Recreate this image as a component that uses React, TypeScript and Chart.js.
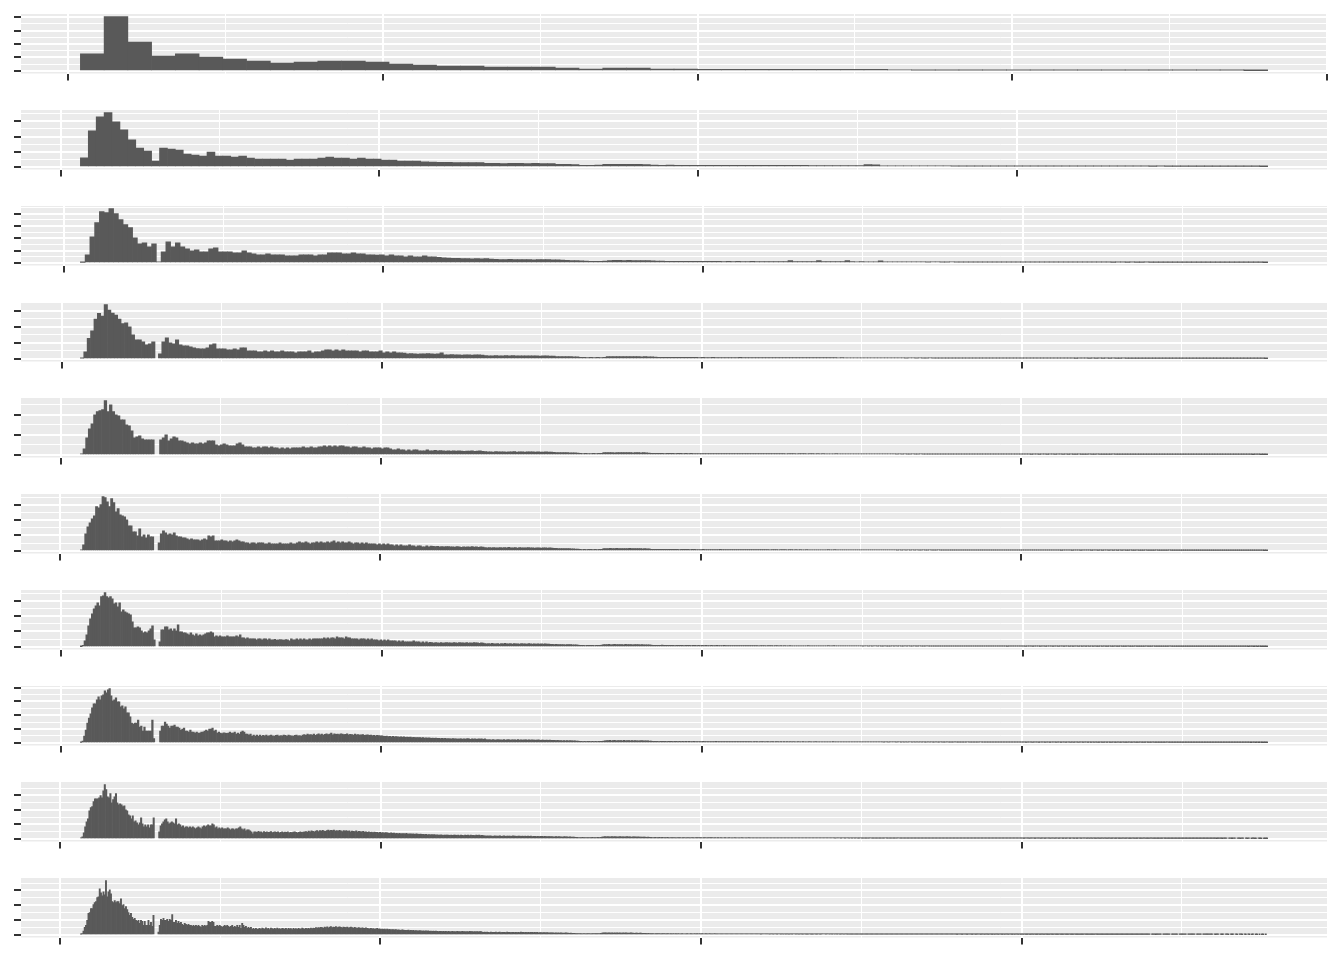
import React, { useEffect, useRef } from "react";
import { Chart, registerables } from "chart.js";

Chart.register(...registerables);

// ---- data (diamond price histograms, counts per bin) ----
const PRICE_MIN = 326;
const PRICE_MAX = 18823;
const binCounts = [50, 150, 250, 350, 450, 550, 650, 750, 850, 950];
const yTickSteps = [2500, 1000, 500, 500, 500, 300, 250, 200, 200, 200];
const xMajorStep = 5000;

const counts50 = [
  3170, 10075, 5350, 2740, 3170, 2550, 2180, 1800, 1430, 1620,
  1800, 1800, 1620, 1245, 1060, 870, 870, 685, 685, 685,
  500, 310, 500, 500, 300, 300, 290, 290, 280, 280,
  270, 270, 260, 250, 140, 135, 130, 130, 125, 125,
  120, 120, 115, 110, 110, 105, 100, 100, 95, 40,
];

const counts150 = [
  600, 2375, 3310, 3575, 2975, 2440, 1775, 1245, 1045, 380,
  1245, 1175, 1110, 845, 780, 710, 975, 710, 710, 645,
  710, 577, 510, 510, 510, 510, 445, 510, 510, 510,
  577, 645, 577, 577, 510, 577, 510, 510, 445, 445,
  380, 380, 380, 330, 310, 300, 290, 280, 285, 275,
  280, 230, 225, 220, 228, 222, 218, 225, 215, 205,
  170, 160, 145, 105, 95, 110, 160, 165, 160, 158,
  155, 140, 110, 105, 108, 104, 102, 100, 98, 96,
  95, 97, 94, 93, 95, 92, 91, 93, 90, 92,
  89, 90, 88, 87, 84, 82, 80, 78, 76, 140,
  130, 64, 58, 57, 56, 57, 55, 54, 55, 53,
  49, 48, 47, 48, 46, 47, 45, 46, 43, 42,
  43, 41, 42, 40, 41, 40, 38, 37, 38, 36,
  37, 35, 36, 35, 34, 33, 34, 32, 33, 32,
  33, 31, 29, 28, 27, 28, 26, 25, 22, 12,
];

const counts250 = [
  20, 326, 1060, 1632, 2080, 2040, 2200, 2000, 1755, 1550,
  1430, 1020, 775, 816, 653, 775, 40, 450, 857, 653,
  816, 653, 571, 490, 530, 450, 450, 571, 612, 450,
  450, 450, 408, 408, 490, 408, 367, 326, 326, 367,
  326, 326, 326, 286, 286, 286, 326, 326, 326, 286,
  326, 326, 408, 408, 408, 367, 367, 408, 367, 367,
  326, 326, 310, 326, 286, 326, 286, 286, 245, 286,
  245, 245, 286, 245, 245, 220, 205, 195, 185, 178,
  172, 175, 165, 170, 160, 168, 155, 140, 135, 130,
  138, 132, 128, 135, 130, 125, 133, 128, 130, 120,
  125, 110, 100, 95, 90, 75, 65, 60, 58, 62,
  65, 95, 100, 97, 92, 98, 95, 90, 93, 88,
  85, 68, 65, 62, 64, 60, 63, 61, 58, 60,
  62, 58, 56, 55, 57, 54, 55, 53, 56, 54,
  52, 55, 53, 51, 54, 52, 50, 53, 51, 95,
  50, 49, 51, 50, 48, 92, 49, 47, 48, 47,
  46, 90, 45, 44, 46, 43, 42, 40, 85, 36,
  35, 34, 34, 33, 32, 34, 31, 33, 30, 32,
  31, 30, 29, 31, 29, 28, 29, 27, 28, 27,
  26, 28, 27, 26, 27, 25, 26, 27, 25, 25,
  24, 26, 24, 25, 23, 24, 25, 23, 24, 22,
  23, 24, 22, 21, 23, 21, 22, 20, 21, 22,
  20, 21, 19, 20, 21, 19, 20, 19, 18, 20,
  19, 18, 19, 17, 18, 19, 17, 18, 17, 17,
  16, 15, 16, 15, 14, 15, 13, 14, 12, 8,
];

const counts350 = [
  20, 217, 640, 870, 1240, 1418, 1335, 1687, 1521, 1428,
  1366, 1242, 1097, 1118, 994, 745, 590, 590, 528, 435,
  466, 528, 0, 155, 528, 652, 497, 466, 590, 435,
  404, 404, 373, 342, 320, 310, 310, 342, 435, 466,
  310, 310, 310, 280, 280, 310, 280, 342, 342, 248,
  248, 248, 217, 217, 248, 217, 248, 217, 217, 248,
  217, 217, 217, 186, 217, 217, 217, 248, 186, 217,
  217, 248, 280, 280, 248, 280, 248, 280, 248, 248,
  248, 248, 217, 248, 248, 217, 217, 217, 248, 186,
  217, 186, 217, 186, 186, 176, 155, 165, 155, 145,
  155, 155, 165, 155, 145, 155, 186, 124, 124, 128,
  120, 125, 118, 122, 126, 115, 120, 124, 117, 100,
  96, 92, 98, 95, 90, 97, 93, 99, 94, 91,
  96, 92, 95, 90, 94, 88, 93, 90, 86, 82,
  72, 70, 68, 71, 66, 64, 58, 45, 42, 40,
  44, 41, 43, 40, 46, 66, 70, 68, 72, 69,
  67, 71, 66, 68, 70, 65, 67, 64, 60, 55,
  48, 46, 44, 47, 45, 43, 46, 44, 45, 42,
  44, 43, 41, 42, 41, 40, 42, 39, 41, 40,
  38, 41, 39, 40, 42, 38, 40, 39, 41, 38,
  40, 39, 37, 40, 38, 39, 41, 37, 38, 40,
  38, 36, 39, 38, 37, 39, 36, 38, 37, 36,
  38, 35, 35, 34, 36, 33, 34, 32, 33, 34,
  31, 32, 30, 31, 29, 30, 28, 29, 27, 28,
  26, 25, 24, 23, 25, 24, 22, 24, 23, 22,
  24, 21, 23, 22, 21, 23, 21, 22, 20, 21,
  21, 20, 19, 21, 20, 19, 20, 18, 20, 19,
  21, 18, 19, 20, 18, 19, 17, 19, 18, 18,
  17, 19, 17, 18, 16, 18, 17, 16, 18, 17,
  16, 18, 17, 15, 17, 16, 17, 15, 16, 15,
  17, 15, 16, 14, 16, 15, 14, 16, 15, 14,
  15, 13, 15, 14, 15, 13, 14, 14, 13, 15,
  13, 14, 12, 14, 13, 12, 14, 13, 12, 13,
  11, 13, 12, 11, 12, 12, 11, 12, 10, 11,
  12, 10, 11, 9, 10, 11, 9, 10, 8, 5,
];

const counts450 = [
  25, 150, 423, 647, 771, 995, 1070, 1095, 1120, 1343,
  1070, 1243, 1070, 995, 970, 870, 870, 746, 721, 597,
  423, 448, 473, 398, 373, 373, 373, 373, 0, 0,
  373, 423, 497, 348, 398, 448, 423, 348, 348, 323,
  298, 274, 298, 274, 274, 298, 274, 298, 348, 348,
  348, 249, 224, 249, 274, 249, 224, 224, 224, 274,
  298, 249, 199, 199, 199, 174, 174, 199, 174, 199,
  199, 174, 199, 174, 174, 149, 174, 149, 174, 149,
  174, 174, 174, 174, 199, 174, 174, 199, 174, 174,
  199, 199, 224, 199, 224, 199, 224, 199, 224, 224,
  199, 199, 174, 199, 199, 174, 174, 199, 174, 174,
  149, 174, 174, 174, 149, 174, 174, 149, 124, 124,
  149, 124, 124, 99, 124, 99, 124, 124, 99, 99,
  99, 124, 99, 99, 110, 99, 105, 99, 95, 98,
  92, 96, 90, 99, 94, 88, 95, 91, 97, 89,
  93, 96, 87, 78, 72, 75, 70, 77, 73, 71,
  76, 69, 74, 72, 78, 70, 73, 75, 68, 74,
  71, 72, 69, 73, 70, 67, 71, 68, 65, 62,
  56, 53, 55, 52, 54, 51, 50, 46, 42, 34,
  32, 35, 31, 33, 34, 32, 35, 38, 52, 56,
  53, 55, 51, 57, 54, 52, 55, 53, 56, 51,
  54, 52, 50, 53, 48, 45, 38, 36, 34, 37,
  35, 33, 36, 34, 35, 32, 36, 34, 33, 35,
  32, 34, 33, 31, 32, 31, 33, 30, 32, 31,
  29, 32, 30, 31, 33, 29, 31, 30, 32, 29,
  31, 30, 28, 31, 30, 29, 31, 28, 30, 29,
  31, 28, 30, 29, 28, 30, 29, 27, 30, 28,
  29, 27, 29, 28, 30, 27, 28, 29, 27, 28,
  26, 28, 27, 26, 27, 26, 28, 25, 27, 26,
  25, 27, 24, 26, 25, 24, 25, 23, 24, 23,
  22, 23, 21, 22, 21, 20, 21, 19, 19, 18,
  20, 17, 19, 18, 17, 19, 18, 17, 19, 16,
  18, 17, 18, 16, 17, 18, 16, 17, 15, 17,
  16, 15, 16, 16, 15, 17, 14, 16, 15, 14,
  16, 15, 14, 16, 13, 15, 14, 16, 13, 15,
  14, 13, 15, 14, 13, 14, 13, 14, 13, 15,
  12, 14, 13, 12, 14, 13, 12, 14, 13, 12,
  13, 14, 11, 13, 12, 13, 11, 12, 13, 11,
  12, 12, 13, 11, 12, 13, 11, 12, 10, 12,
  11, 13, 10, 12, 11, 12, 10, 11, 12, 10,
  11, 12, 10, 11, 10, 11, 11, 10, 12, 9,
  11, 10, 11, 9, 10, 11, 9, 10, 11, 9,
  10, 9, 11, 8, 10, 9, 10, 8, 9, 10,
  9, 8, 10, 7, 9, 8, 9, 7, 8, 9,
  7, 8, 7, 8, 6, 7, 8, 6, 5, 3,
];

const counts550 = [
  20, 117, 332, 469, 548, 626, 685, 861, 841, 900,
  1056, 1037, 958, 861, 1017, 939, 763, 822, 704, 685,
  665, 606, 489, 489, 372, 372, 293, 430, 274, 313,
  254, 313, 274, 274, 0, 0, 156, 332, 391, 352,
  313, 332, 313, 352, 293, 274, 274, 254, 254, 235,
  215, 235, 215, 215, 215, 196, 215, 235, 215, 293,
  274, 293, 196, 196, 196, 215, 196, 196, 176, 196,
  176, 196, 215, 196, 176, 176, 156, 156, 137, 156,
  156, 137, 156, 156, 156, 137, 137, 156, 137, 137,
  137, 137, 156, 137, 137, 137, 137, 156, 137, 137,
  156, 176, 156, 156, 176, 156, 137, 156, 156, 176,
  156, 176, 156, 156, 176, 156, 176, 196, 156, 176,
  156, 176, 156, 156, 176, 156, 137, 156, 156, 137,
  156, 137, 156, 137, 137, 137, 137, 117, 137, 117,
  137, 117, 137, 117, 117, 98, 117, 98, 117, 98,
  98, 98, 117, 98, 98, 78, 98, 98, 78, 78,
  98, 78, 90, 85, 80, 88, 78, 82, 76, 80,
  80, 75, 78, 72, 81, 76, 70, 79, 74, 77,
  71, 80, 73, 76, 69, 75, 72, 64, 59, 62,
  57, 65, 60, 58, 63, 56, 61, 59, 66, 57,
  60, 62, 55, 61, 58, 60, 56, 62, 57, 59,
  55, 60, 58, 54, 59, 56, 53, 57, 52, 50,
  46, 43, 45, 42, 44, 41, 43, 40, 38, 35,
  32, 28, 26, 29, 25, 27, 28, 26, 27, 25,
  28, 31, 42, 45, 43, 46, 41, 44, 47, 42,
  45, 43, 44, 41, 46, 42, 44, 43, 41, 42,
  40, 41, 38, 36, 31, 29, 28, 30, 27, 29,
  31, 28, 30, 27, 29, 28, 30, 26, 29, 28,
  27, 29, 26, 28, 27, 26, 26, 25, 27, 24,
  26, 25, 23, 26, 24, 25, 27, 23, 25, 24,
  26, 23, 25, 24, 22, 25, 24, 23, 25, 22,
  24, 23, 25, 22, 24, 23, 22, 24, 23, 21,
  24, 22, 23, 21, 23, 22, 24, 21, 22, 23,
  21, 22, 20, 22, 21, 20, 22, 21, 20, 21,
  19, 21, 20, 19, 21, 20, 22, 21, 20, 22,
  19, 21, 20, 19, 21, 18, 20, 19, 18, 20,
  17, 19, 18, 17, 19, 16, 18, 17, 16, 17,
  15, 16, 17, 15, 16, 15, 16, 15, 14, 16,
  13, 15, 14, 16, 13, 15, 14, 15, 13, 14,
  16, 13, 14, 15, 12, 14, 13, 15, 12, 14,
  13, 12, 14, 13, 12, 13, 13, 12, 14, 11,
  13, 12, 14, 11, 13, 12, 11, 13, 12, 14,
  11, 12, 13, 11, 12, 13, 10, 12, 11, 13,
  10, 12, 11, 12, 10, 11, 12, 11, 13, 10,
  12, 11, 10, 12, 11, 13, 10, 11, 12, 10,
  11, 12, 10, 11, 9, 11, 12, 10, 11, 9,
  10, 11, 10, 9, 11, 10, 10, 11, 9, 10,
  11, 9, 10, 8, 10, 11, 9, 10, 9, 11,
  8, 10, 9, 10, 8, 9, 10, 9, 8, 10,
  9, 8, 9, 10, 8, 9, 9, 8, 10, 8,
  9, 7, 9, 8, 10, 7, 9, 8, 9, 7,
  8, 9, 8, 7, 9, 8, 7, 8, 9, 7,
  8, 7, 8, 9, 7, 8, 8, 7, 8, 6,
  7, 8, 6, 7, 8, 6, 7, 6, 7, 8,
  6, 7, 5, 6, 7, 5, 6, 5, 4, 3,
];

const counts650 = [
  3, 22, 98, 195, 342, 456, 538, 619, 668, 717,
  668, 815, 831, 880, 815, 798, 815, 782, 700, 717,
  652, 717, 570, 603, 570, 554, 538, 521, 407, 310,
  310, 326, 310, 261, 228, 244, 228, 261, 293, 342,
  114, 0, 0, 81, 277, 277, 326, 326, 277, 293,
  261, 293, 261, 358, 244, 244, 228, 228, 212, 195,
  228, 195, 179, 212, 179, 195, 179, 195, 212, 228,
  228, 244, 228, 163, 179, 163, 179, 163, 163, 163,
  179, 163, 163, 163, 163, 179, 163, 195, 147, 147,
  130, 147, 130, 130, 130, 130, 114, 130, 130, 114,
  130, 130, 114, 130, 114, 114, 120, 110, 114, 118,
  114, 110, 116, 114, 98, 130, 114, 114, 130, 114,
  130, 114, 130, 114, 114, 130, 114, 130, 130, 130,
  130, 130, 130, 147, 130, 147, 130, 147, 147, 130,
  163, 147, 147, 147, 130, 163, 147, 147, 130, 130,
  130, 130, 114, 130, 130, 130, 114, 130, 114, 130,
  114, 114, 114, 98, 114, 98, 114, 98, 114, 98,
  98, 98, 98, 81, 98, 81, 98, 81, 81, 81,
  81, 81, 98, 81, 81, 81, 65, 81, 65, 81,
  65, 72, 68, 60, 70, 65, 62, 68, 60, 64,
  68, 63, 66, 61, 70, 64, 60, 67, 63, 66,
  59, 69, 62, 65, 60, 67, 63, 64, 58, 66,
  61, 54, 49, 52, 47, 56, 50, 48, 53, 46,
  51, 49, 55, 47, 50, 52, 45, 51, 48, 50,
  46, 53, 47, 49, 45, 51, 48, 44, 50, 46,
  49, 45, 48, 44, 47, 43, 46, 42, 40, 38,
  39, 36, 38, 35, 37, 34, 38, 35, 36, 33,
  34, 30, 27, 24, 22, 25, 21, 23, 24, 22,
  23, 21, 24, 22, 25, 27, 35, 38, 36, 39,
  34, 37, 40, 35, 38, 36, 37, 34, 39, 35,
  37, 36, 34, 37, 35, 36, 33, 35, 34, 32,
  31, 30, 26, 24, 23, 25, 22, 24, 26, 23,
  25, 22, 24, 23, 25, 21, 24, 23, 22, 24,
  21, 23, 22, 24, 21, 23, 22, 21, 22, 21,
  23, 20, 22, 21, 19, 22, 20, 21, 23, 19,
  21, 20, 22, 19, 21, 20, 18, 21, 20, 19,
  21, 18, 20, 19, 21, 18, 20, 19, 18, 20,
  19, 17, 20, 18, 19, 17, 19, 18, 20, 17,
  18, 19, 17, 18, 16, 18, 17, 16, 18, 17,
  16, 17, 15, 17, 16, 15, 17, 16, 18, 16,
  17, 15, 16, 17, 15, 16, 14, 16, 15, 18,
  17, 16, 18, 15, 17, 16, 15, 17, 14, 16,
  15, 14, 16, 13, 15, 14, 13, 15, 12, 14,
  13, 12, 14, 12, 13, 14, 12, 13, 12, 11,
  13, 12, 11, 12, 13, 12, 14, 11, 13, 12,
  11, 13, 12, 14, 11, 12, 13, 11, 12, 13,
  10, 12, 11, 13, 10, 12, 11, 12, 10, 11,
  12, 10, 11, 12, 10, 11, 10, 12, 10, 11,
  10, 12, 9, 11, 10, 12, 9, 11, 10, 11,
  9, 10, 12, 9, 11, 10, 11, 9, 10, 11,
  9, 10, 11, 9, 10, 9, 11, 8, 10, 9,
  10, 11, 9, 10, 10, 9, 11, 8, 10, 9,
  11, 8, 10, 9, 10, 8, 9, 11, 8, 10,
  9, 10, 8, 9, 10, 8, 9, 10, 8, 9,
  10, 8, 9, 8, 10, 9, 8, 9, 8, 9,
  8, 10, 7, 9, 8, 9, 7, 8, 9, 8,
  10, 7, 8, 9, 7, 8, 9, 8, 7, 9,
  8, 7, 8, 9, 7, 8, 7, 9, 8, 7,
  8, 7, 8, 9, 7, 8, 7, 9, 6, 8,
  7, 8, 6, 7, 8, 7, 9, 6, 7, 8,
  6, 7, 8, 7, 6, 8, 7, 6, 7, 8,
  6, 7, 6, 8, 7, 6, 7, 6, 7, 6,
  7, 6, 7, 5, 6, 7, 5, 6, 7, 5,
  6, 5, 7, 6, 5, 6, 5, 6, 5, 4,
  6, 5, 4, 5, 4, 5, 4, 3, 4, 2,
];

const counts750 = [
  5, 24, 97, 185, 287, 360, 419, 506, 565, 565,
  623, 667, 623, 682, 696, 755, 726, 769, 784, 682,
  609, 623, 653, 594, 594, 521, 536, 492, 521, 433,
  433, 375, 287, 273, 287, 287, 331, 229, 244, 170,
  229, 170, 170, 170, 170, 331, 60, 0, 0, 0,
  170, 244, 244, 302, 273, 244, 214, 244, 244, 258,
  229, 229, 214, 185, 200, 214, 170, 170, 156, 185,
  156, 156, 141, 156, 141, 141, 156, 156, 170, 185,
  170, 200, 200, 214, 170, 185, 141, 156, 141, 135,
  146, 141, 138, 141, 156, 141, 141, 156, 127, 141,
  127, 156, 170, 156, 127, 127, 112, 127, 97, 112,
  97, 112, 97, 112, 97, 107, 100, 112, 97, 105,
  112, 100, 97, 107, 112, 97, 105, 100, 112, 107,
  97, 112, 105, 100, 97, 107, 112, 100, 105, 97,
  112, 120, 107, 127, 115, 120, 112, 127, 107, 120,
  131, 115, 127, 112, 124, 131, 120, 127, 141, 115,
  131, 124, 127, 120, 131, 127, 120, 124, 131, 115,
  124, 120, 112, 127, 117, 120, 112, 115, 120, 107,
  112, 117, 107, 112, 104, 109, 100, 107, 104, 100,
  100, 97, 92, 97, 90, 94, 88, 92, 85, 90,
  87, 83, 88, 82, 85, 80, 84, 78, 82, 76,
  80, 77, 74, 77, 74, 72, 75, 70, 73, 68,
  71, 66, 70, 64, 68, 63, 66, 62, 65, 60,
  63, 58, 62, 59, 57, 60, 56, 58, 55, 57,
  59, 55, 58, 53, 60, 56, 52, 58, 54, 57,
  51, 59, 55, 56, 52, 57, 47, 42, 45, 41,
  48, 43, 40, 46, 42, 44, 41, 47, 40, 44,
  45, 39, 44, 42, 43, 40, 46, 41, 43, 39,
  44, 42, 38, 43, 40, 42, 39, 41, 38, 42,
  37, 40, 39, 37, 40, 36, 38, 35, 37, 34,
  33, 34, 31, 33, 30, 32, 29, 33, 30, 31,
  29, 30, 28, 26, 24, 22, 21, 19, 22, 18,
  20, 21, 19, 20, 18, 21, 19, 22, 20, 21,
  24, 30, 33, 31, 34, 29, 32, 35, 30, 33,
  31, 32, 29, 34, 30, 32, 31, 29, 32, 30,
  31, 28, 30, 29, 31, 28, 29, 27, 28, 26,
  25, 23, 21, 20, 22, 19, 21, 23, 20, 22,
  19, 21, 20, 22, 18, 21, 20, 19, 21, 18,
  20, 19, 21, 18, 20, 19, 18, 20, 19, 18,
  19, 19, 18, 20, 17, 19, 18, 17, 19, 18,
  18, 20, 17, 18, 17, 19, 17, 18, 17, 16,
  18, 17, 16, 18, 16, 17, 16, 18, 16, 17,
  16, 17, 18, 16, 15, 17, 16, 18, 15, 17,
  16, 17, 15, 16, 17, 15, 16, 17, 15, 16,
  17, 15, 16, 15, 16, 14, 16, 15, 17, 15,
  16, 15, 14, 16, 15, 14, 16, 15, 14, 15,
  16, 14, 15, 14, 16, 14, 15, 14, 13, 15,
  14, 13, 14, 15, 14, 16, 13, 15, 14, 13,
  15, 14, 13, 15, 12, 14, 13, 15, 12, 14,
  13, 12, 14, 13, 12, 14, 11, 13, 12, 13,
  11, 12, 13, 11, 12, 11, 12, 10, 12, 11,
  10, 12, 11, 11, 12, 10, 11, 12, 10, 11,
  10, 12, 9, 11, 12, 10, 11, 10, 12, 9,
  11, 10, 11, 9, 10, 12, 10, 11, 9, 10,
  11, 9, 10, 11, 9, 10, 9, 11, 9, 10,
  9, 10, 11, 9, 10, 9, 10, 8, 10, 9,
  11, 8, 9, 10, 9, 8, 10, 9, 11, 8,
  9, 10, 8, 9, 10, 8, 9, 10, 8, 9,
  8, 10, 9, 8, 9, 10, 8, 9, 8, 9,
  10, 8, 9, 8, 9, 8, 9, 7, 9, 8,
  10, 7, 8, 9, 8, 7, 9, 8, 9, 7,
  8, 9, 7, 8, 9, 8, 7, 9, 8, 7,
  8, 9, 7, 8, 9, 7, 8, 7, 9, 8,
  7, 8, 9, 7, 8, 8, 7, 8, 6, 8,
  7, 9, 6, 7, 8, 7, 6, 8, 7, 8,
  6, 7, 8, 6, 7, 8, 7, 6, 8, 7,
  6, 7, 8, 6, 7, 8, 6, 7, 6, 8,
  7, 6, 7, 8, 6, 7, 6, 8, 5, 7,
  6, 7, 5, 6, 7, 6, 8, 5, 6, 7,
  5, 6, 7, 6, 5, 7, 6, 5, 6, 7,
  5, 6, 5, 7, 6, 5, 6, 7, 5, 6,
  5, 7, 6, 5, 6, 5, 6, 5, 6, 4,
  5, 6, 4, 5, 6, 4, 5, 6, 5, 4,
  6, 5, 4, 5, 6, 4, 5, 4, 5, 3,
  4, 5, 3, 4, 3, 4, 2, 3, 2, 1,
];

const counts850 = [
  14, 28, 83, 166, 236, 277, 388, 430, 444, 513,
  554, 554, 554, 568, 596, 568, 665, 748, 679, 582,
  568, 624, 499, 541, 582, 624, 499, 471, 485, 471,
  444, 457, 402, 388, 333, 319, 277, 319, 236, 249,
  222, 194, 222, 291, 208, 166, 194, 166, 194, 152,
  194, 194, 291, 0, 0, 0, 97, 180, 208, 236,
  263, 277, 236, 208, 222, 236, 222, 208, 277, 194,
  208, 194, 166, 180, 152, 166, 166, 152, 166, 152,
  166, 152, 139, 152, 166, 152, 139, 166, 180, 166,
  180, 194, 180, 180, 208, 194, 152, 166, 139, 152,
  139, 152, 139, 139, 139, 152, 139, 125, 139, 139,
  125, 139, 139, 152, 166, 139, 125, 139, 111, 125,
  125, 111, 97, 69, 97, 97, 88, 102, 92, 95,
  83, 99, 90, 97, 88, 93, 99, 85, 92, 97,
  88, 95, 83, 90, 97, 86, 92, 88, 95, 83,
  90, 86, 92, 97, 88, 84, 90, 95, 88, 92,
  95, 100, 92, 105, 98, 110, 102, 95, 108, 115,
  100, 112, 105, 118, 108, 102, 115, 120, 110, 116,
  112, 120, 108, 115, 105, 118, 110, 100, 112, 106,
  115, 102, 110, 98, 108, 104, 100, 110, 96, 102,
  100, 95, 104, 92, 98, 90, 96, 88, 94, 85,
  92, 88, 90, 84, 89, 82, 86, 80, 85, 82,
  80, 76, 82, 74, 78, 72, 77, 70, 75, 68,
  73, 71, 69, 74, 66, 70, 68, 64, 69, 62,
  67, 65, 63, 66, 61, 62, 58, 63, 56, 60,
  55, 58, 54, 57, 52, 56, 53, 51, 55, 49,
  53, 51, 50, 52, 48, 51, 49, 50, 52, 48,
  51, 46, 53, 49, 45, 51, 47, 50, 44, 52,
  48, 49, 45, 51, 47, 50, 44, 49, 46, 41,
  37, 40, 36, 42, 38, 35, 40, 37, 39, 36,
  41, 35, 39, 40, 34, 39, 37, 38, 35, 41,
  36, 38, 34, 39, 37, 33, 38, 35, 37, 34,
  36, 33, 37, 32, 35, 34, 32, 35, 31, 34,
  33, 31, 34, 30, 32, 31, 29, 30, 28, 27,
  30, 27, 29, 26, 28, 25, 29, 26, 27, 25,
  26, 24, 25, 22, 21, 19, 18, 18, 17, 19,
  16, 18, 17, 16, 18, 17, 19, 16, 18, 17,
  19, 18, 20, 22, 27, 29, 28, 30, 26, 28,
  31, 27, 29, 26, 28, 27, 30, 26, 28, 27,
  26, 29, 27, 28, 25, 27, 26, 28, 25, 26,
  24, 25, 23, 22, 24, 21, 22, 20, 20, 18,
  17, 19, 16, 18, 20, 17, 19, 16, 18, 17,
  19, 15, 18, 17, 16, 18, 15, 17, 16, 18,
  15, 17, 16, 15, 17, 16, 15, 16, 17, 15,
  16, 17, 17, 16, 18, 15, 17, 16, 15, 17,
  16, 16, 18, 15, 16, 15, 17, 15, 16, 15,
  14, 16, 15, 14, 16, 14, 15, 14, 16, 14,
  15, 14, 15, 16, 14, 13, 15, 14, 16, 13,
  15, 14, 15, 13, 14, 15, 13, 14, 15, 13,
  14, 13, 14, 12, 14, 13, 15, 13, 14, 13,
  12, 14, 13, 12, 14, 13, 12, 13, 14, 12,
  13, 12, 14, 12, 13, 12, 11, 13, 12, 13,
  14, 12, 13, 12, 11, 13, 12, 11, 13, 12,
  11, 12, 13, 12, 14, 11, 13, 12, 11, 13,
  10, 12, 11, 13, 10, 12, 11, 10, 12, 11,
  10, 12, 10, 11, 10, 11, 9, 10, 11, 9,
  10, 9, 10, 9, 10, 11, 9, 10, 9, 10,
  8, 10, 9, 8, 10, 9, 11, 8, 10, 9,
  10, 8, 9, 10, 9, 11, 8, 9, 10, 8,
  9, 10, 9, 8, 10, 9, 8, 9, 10, 8,
  9, 8, 10, 9, 8, 9, 10, 8, 9, 8,
  10, 9, 8, 9, 8, 9, 10, 8, 9, 8,
  9, 10, 8, 9, 8, 9, 9, 8, 9, 7,
  9, 8, 10, 7, 8, 9, 8, 7, 9, 8,
  9, 7, 8, 9, 7, 8, 9, 8, 7, 9,
  8, 7, 8, 9, 7, 8, 9, 7, 8, 7,
  9, 8, 7, 8, 9, 7, 8, 7, 8, 9,
  7, 8, 8, 7, 8, 6, 8, 7, 9, 6,
  7, 8, 7, 6, 8, 7, 8, 6, 7, 8,
  6, 7, 8, 7, 6, 8, 7, 6, 7, 8,
  6, 7, 8, 6, 7, 6, 8, 7, 6, 7,
  8, 6, 7, 6, 8, 7, 6, 7, 8, 7,
  6, 7, 5, 7, 6, 8, 5, 6, 7, 6,
  5, 7, 6, 7, 5, 6, 7, 5, 6, 7,
  6, 5, 7, 6, 5, 6, 7, 5, 6, 7,
  5, 6, 5, 7, 6, 5, 6, 7, 5, 6,
  5, 7, 6, 5, 6, 5, 7, 4, 6, 5,
  6, 4, 5, 6, 5, 7, 4, 5, 6, 4,
  5, 6, 5, 4, 6, 5, 4, 5, 6, 4,
  5, 4, 6, 5, 4, 5, 6, 4, 5, 4,
  6, 5, 4, 5, 6, 4, 5, 6, 4, 5,
  5, 4, 6, 3, 5, 4, 5, 3, 4, 5,
  4, 0, 5, 4, 3, 5, 4, 0, 5, 4,
  3, 4, 5, 0, 4, 3, 4, 0, 3, 4,
  2, 3, 0, 4, 3, 2, 0, 3, 2, 1,
];

const counts950 = [
  8, 18, 49, 102, 129, 195, 289, 302, 355, 355,
  408, 435, 448, 502, 515, 622, 568, 528, 582, 542,
  732, 515, 582, 608, 555, 448, 435, 462, 435, 448,
  448, 422, 488, 395, 408, 355, 382, 342, 302, 262,
  289, 235, 209, 222, 195, 182, 195, 155, 195, 182,
  129, 182, 129, 129, 195, 129, 169, 115, 262, 0,
  0, 0, 36, 129, 209, 195, 222, 195, 195, 209,
  182, 209, 195, 275, 169, 169, 195, 155, 182, 155,
  169, 142, 129, 155, 142, 129, 142, 129, 129, 115,
  129, 115, 129, 115, 129, 115, 102, 129, 115, 129,
  115, 129, 182, 169, 169, 182, 169, 115, 115, 129,
  115, 129, 115, 102, 115, 129, 115, 129, 115, 102,
  115, 129, 102, 115, 102, 129, 102, 129, 89, 155,
  129, 102, 115, 89, 102, 89, 102, 75, 89, 75,
  89, 75, 80, 88, 75, 92, 84, 78, 95, 82,
  86, 72, 90, 84, 79, 88, 76, 92, 81, 85,
  74, 89, 83, 78, 86, 72, 88, 80, 84, 70,
  86, 79, 83, 75, 88, 81, 77, 90, 83, 79,
  86, 82, 88, 80, 91, 85, 92, 88, 96, 90,
  99, 94, 102, 97, 92, 105, 98, 108, 95, 103,
  110, 99, 106, 101, 112, 97, 104, 108, 100, 95,
  106, 101, 97, 103, 94, 99, 104, 96, 92, 100,
  95, 89, 97, 93, 88, 95, 90, 86, 93, 89,
  85, 82, 88, 80, 84, 78, 82, 86, 76, 80,
  75, 79, 73, 77, 71, 76, 70, 74, 68, 72,
  69, 66, 71, 64, 68, 65, 62, 67, 63, 61,
  62, 59, 64, 57, 60, 56, 61, 54, 58, 55,
  52, 57, 53, 50, 55, 51, 54, 49, 52, 48,
  51, 47, 50, 46, 49, 47, 45, 48, 46, 44,
  47, 43, 46, 41, 48, 44, 40, 46, 42, 45,
  39, 47, 43, 44, 40, 46, 42, 45, 39, 44,
  41, 47, 42, 44, 40, 45, 41, 43, 39, 44,
  42, 37, 33, 36, 32, 38, 34, 31, 36, 33,
  35, 32, 37, 31, 35, 36, 30, 35, 33, 34,
  31, 37, 32, 34, 30, 35, 33, 29, 34, 31,
  33, 30, 36, 32, 34, 29, 33, 31, 35, 30,
  32, 34, 29, 33, 31, 32, 28, 31, 30, 28,
  31, 29, 27, 30, 28, 27, 26, 25, 27, 24,
  26, 23, 25, 22, 26, 23, 24, 22, 25, 23,
  24, 21, 22, 20, 21, 19, 18, 17, 16, 15,
  17, 14, 16, 15, 14, 16, 15, 17, 14, 16,
  15, 17, 16, 15, 17, 18, 20, 24, 26, 25,
  27, 23, 25, 28, 24, 26, 23, 25, 24, 27,
  23, 25, 24, 23, 26, 24, 25, 22, 24, 23,
  25, 22, 23, 21, 22, 24, 21, 23, 22, 20,
  21, 19, 20, 18, 19, 18, 16, 15, 17, 14,
  16, 18, 15, 17, 14, 16, 15, 17, 13, 16,
  15, 14, 16, 13, 15, 14, 16, 13, 15, 14,
  13, 15, 14, 13, 14, 15, 13, 14, 15, 13,
  14, 16, 14, 15, 14, 16, 13, 15, 14, 13,
  15, 14, 14, 16, 13, 14, 13, 15, 13, 14,
  13, 12, 14, 13, 12, 14, 12, 13, 12, 14,
  12, 13, 12, 13, 14, 12, 11, 13, 12, 14,
  11, 13, 12, 13, 11, 12, 13, 11, 12, 13,
  11, 12, 11, 12, 10, 12, 11, 13, 11, 12,
  11, 10, 12, 11, 10, 12, 11, 10, 11, 12,
  10, 11, 10, 12, 10, 11, 10, 9, 11, 10,
  11, 12, 10, 11, 10, 9, 11, 10, 9, 11,
  10, 9, 10, 11, 10, 9, 10, 11, 9, 10,
  11, 9, 10, 12, 11, 13, 10, 12, 11, 10,
  12, 9, 11, 10, 12, 9, 11, 10, 9, 11,
  10, 9, 11, 9, 10, 9, 10, 8, 9, 10,
  8, 9, 8, 9, 8, 9, 10, 8, 9, 8,
  9, 7, 9, 8, 7, 9, 8, 7, 8, 9,
  8, 9, 8, 10, 7, 9, 8, 9, 7, 8,
  9, 8, 10, 7, 8, 9, 7, 8, 9, 8,
  7, 9, 8, 7, 8, 9, 7, 8, 7, 9,
  8, 7, 8, 9, 7, 8, 7, 9, 8, 7,
  8, 7, 8, 9, 7, 8, 7, 8, 9, 7,
  8, 7, 8, 9, 7, 8, 7, 8, 8, 7,
  8, 6, 8, 7, 9, 6, 7, 8, 7, 6,
  8, 7, 8, 6, 7, 8, 6, 7, 8, 7,
  6, 8, 7, 6, 7, 8, 6, 7, 8, 6,
  7, 6, 8, 7, 6, 7, 8, 6, 7, 6,
  8, 7, 6, 7, 8, 6, 7, 6, 7, 7,
  6, 7, 5, 7, 6, 8, 5, 6, 7, 6,
  5, 7, 6, 7, 5, 6, 7, 5, 6, 7,
  6, 5, 7, 6, 5, 6, 7, 5, 6, 7,
  5, 6, 5, 7, 6, 5, 6, 7, 5, 6,
  5, 7, 6, 5, 6, 7, 5, 6, 5, 6,
  6, 6, 5, 7, 4, 6, 5, 6, 4, 5,
  6, 5, 7, 4, 5, 6, 4, 5, 6, 5,
  4, 6, 5, 4, 5, 6, 4, 5, 4, 6,
  5, 4, 5, 6, 4, 5, 4, 6, 5, 4,
  5, 6, 4, 5, 6, 4, 5, 6, 5, 4,
  5, 6, 4, 5, 4, 6, 0, 5, 4, 6,
  3, 5, 6, 4, 5, 0, 5, 6, 4, 5,
  6, 4, 0, 5, 4, 6, 5, 4, 0, 5,
  6, 4, 5, 4, 6, 0, 5, 4, 5, 6,
  4, 5, 0, 4, 5, 6, 4, 0, 5, 4,
  6, 5, 4, 5, 4, 5, 0, 4, 3, 5,
  4, 0, 5, 3, 4, 0, 4, 5, 3, 0,
  4, 3, 5, 0, 4, 3, 0, 4, 5, 3,
  0, 4, 3, 0, 4, 3, 0, 3, 4, 0,
  3, 2, 0, 3, 0, 2, 3, 0, 1, 0,
];

const panelCounts = [
  counts50, counts150, counts250, counts350, counts450,
  counts550, counts650, counts750, counts850, counts950,
];

// ---- styling ----
const PANEL_W = 1344;
const PANEL_H = 96;
const PANEL_BG = "#EBEBEB";
const BAR_FILL = "#595959";
const TICK_COLOR = "#333333";

const panelBackground = {
  id: "panelBackground",
  beforeDraw(chart: any) {
    const { ctx, chartArea } = chart;
    if (!chartArea) return;
    ctx.save();
    ctx.fillStyle = PANEL_BG;
    ctx.fillRect(
      chartArea.left,
      chartArea.top,
      chartArea.right - chartArea.left,
      chartArea.bottom - chartArea.top
    );
    ctx.restore();
  },
};

function isMultiple(v: number, step: number) {
  const r = v / step;
  return Math.abs(r - Math.round(r)) < 1e-6;
}

function HistPanel({ bins, counts, yStep }: { bins: number; counts: number[]; yStep: number }) {
  const ref = useRef<HTMLCanvasElement | null>(null);

  useEffect(() => {
    if (!ref.current) return;
    // ggplot2-style bins: width = range/(bins-1), boundary = width/2
    const width = (PRICE_MAX - PRICE_MIN) / (bins - 1);
    const boundary = width / 2;
    const origin = boundary + Math.floor((PRICE_MIN - boundary) / width) * width;
    const lo = origin;
    const hi = origin + bins * width;
    const xPad = 0.05 * (hi - lo);
    const xMin = lo - xPad;
    const xMax = hi + xPad;

    const peak = Math.max(...counts);
    const yMin = -0.05 * peak;
    const yMax = 1.05 * peak;

    const data = counts.map((c, i) => ({
      x: origin + (i + 0.5) * width,
      y: c === 0 ? null : c,
    }));

    const xTickValues: number[] = [];
    for (let v = Math.ceil(xMin / (xMajorStep / 2)) * (xMajorStep / 2); v <= xMax; v += xMajorStep / 2) {
      xTickValues.push(v);
    }
    const yTickValues: number[] = [];
    for (let v = 0; v <= yMax; v += yStep / 2) yTickValues.push(v);

    const gridWidth = (step: number) => (c: any) =>
      c && c.tick && isMultiple(c.tick.value, step) ? 2 : 1;
    const tickColor = (step: number) => (c: any) =>
      c && c.tick && isMultiple(c.tick.value, step) ? TICK_COLOR : "rgba(0,0,0,0)";

    const chart = new Chart(ref.current, {
      type: "bar",
      data: {
        datasets: [
          {
            data: data as any,
            backgroundColor: BAR_FILL,
            borderWidth: 0,
            barPercentage: 1,
            categoryPercentage: 1,
          },
        ],
      },
      options: {
        animation: false,
        responsive: false,
        events: [],
        layout: {
          autoPadding: false,
          padding: { left: 14, right: 17, top: 14, bottom: 15.5 },
        },
        plugins: {
          legend: { display: false },
          tooltip: { enabled: false },
          title: { display: false },
        },
        scales: {
          x: {
            type: "linear",
            min: xMin,
            max: xMax,
            bounds: "data",
            offset: false,
            border: { display: false },
            ticks: { display: false },
            afterBuildTicks: (scale: any) => {
              scale.ticks = xTickValues.map((v) => ({ value: v }));
            },
            grid: {
              offset: false,
              color: "#FFFFFF",
              lineWidth: gridWidth(xMajorStep),
              drawTicks: true,
              tickLength: 7,
              tickWidth: 2,
              tickColor: tickColor(xMajorStep),
            },
          },
          y: {
            type: "linear",
            min: yMin,
            max: yMax,
            bounds: "data",
            border: { display: false },
            ticks: { display: false },
            afterBuildTicks: (scale: any) => {
              scale.ticks = yTickValues.map((v) => ({ value: v }));
            },
            grid: {
              color: "#FFFFFF",
              lineWidth: gridWidth(yStep),
              drawTicks: true,
              tickLength: 7,
              tickWidth: 2,
              tickColor: tickColor(yStep),
            },
          },
        },
      } as any,
      plugins: [panelBackground],
    });

    return () => chart.destroy();
  }, [bins, counts, yStep]);

  return (
    <canvas
      ref={ref}
      width={PANEL_W}
      height={PANEL_H}
      style={{ display: "block", width: PANEL_W, height: PANEL_H }}
    />
  );
}

export default function App() {
  return (
    <div
      style={{
        position: "absolute",
        left: 0,
        top: 0,
        width: PANEL_W,
        height: PANEL_H * binCounts.length,
        background: "#FFFFFF",
      }}
    >
      {binCounts.map((b, i) => (
        <HistPanel key={b} bins={b} counts={panelCounts[i]} yStep={yTickSteps[i]} />
      ))}
    </div>
  );
}
